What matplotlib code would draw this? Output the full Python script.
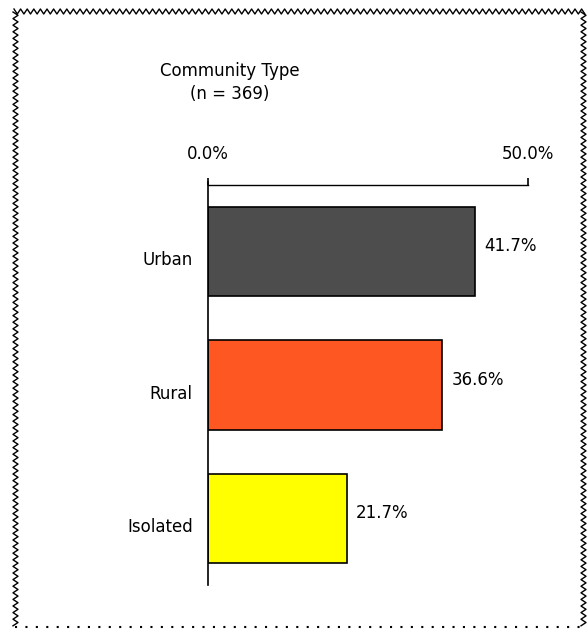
import matplotlib
matplotlib.use('Agg')
import matplotlib.pyplot as plt
import numpy as np

W, H = 588, 629

categories = ['Urban', 'Rural', 'Isolated']
percents = [41.7, 36.6, 21.7]
colors = ['#4d4d4d', '#ff5722', '#ffff00']
tick_values = [0, 50]
tick_labels = ['0.0%', '50.0%']

font_size = 12

fig = plt.figure(figsize=(W / 100, H / 100), dpi=100)

# axes placed in pixel terms: x 208..528, y 185..585 (from top)
ax = fig.add_axes([208 / W, 1 - 585 / H, 320 / W, 400 / H])
y = np.arange(len(categories))
ax.barh(y, percents, height=0.67, color=colors, edgecolor='black', linewidth=1.2)
ax.set_xlim(0, 50)
ax.set_ylim(2.5, -0.5)

for sp in ['right', 'bottom']:
    ax.spines[sp].set_visible(False)
ax.spines['top'].set_linewidth(1.0)
ax.spines['left'].set_linewidth(1.2)
ax.spines['left'].set_bounds(2.5, -0.52)

ax.xaxis.tick_top()
ax.set_xticks(tick_values)
ax.set_xticklabels(tick_labels, fontsize=font_size)
ax.tick_params(axis='x', direction='out', length=5, width=1.2, pad=11)
# category labels sit a touch below the bar centres
ax.set_yticks(y + 0.05)
ax.set_yticklabels(categories, fontsize=font_size)
ax.tick_params(axis='y', length=0, pad=11)

for yi, v in zip(y, percents):
    ax.text(v + 1.4, yi - 0.04, '%.1f%%' % v, va='center', ha='left', fontsize=font_size)

fig.text(230 / W, 1 - 71 / H, 'Community Type', ha='center', va='center', fontsize=font_size)
fig.text(230 / W, 1 - 94 / H, '(n = 369)', ha='center', va='center', fontsize=font_size)

# zigzag frame on left, top and right, dotted along the bottom
def px(xs, ys):
    return np.asarray(xs) / W, 1 - np.asarray(ys) / H

xs = np.arange(14, 585, 3.3)
ys = np.where(np.arange(len(xs)) % 2 == 0, 9, 14)
fig.add_artist(plt.Line2D(*px(xs, ys), color='black', lw=1.0))
ys = np.arange(12, 627, 3.3)
xs = np.where(np.arange(len(ys)) % 2 == 0, 13, 18)
fig.add_artist(plt.Line2D(*px(xs, ys), color='black', lw=1.0))
xs = np.where(np.arange(len(ys)) % 2 == 0, 581, 586)
fig.add_artist(plt.Line2D(*px(xs, ys), color='black', lw=1.0))
fig.add_artist(plt.Line2D(*px([15, 583], [627, 627]), color='black', lw=1.5,
                          linestyle=(0, (1, 4))))

plt.savefig('out.png', dpi=100)
